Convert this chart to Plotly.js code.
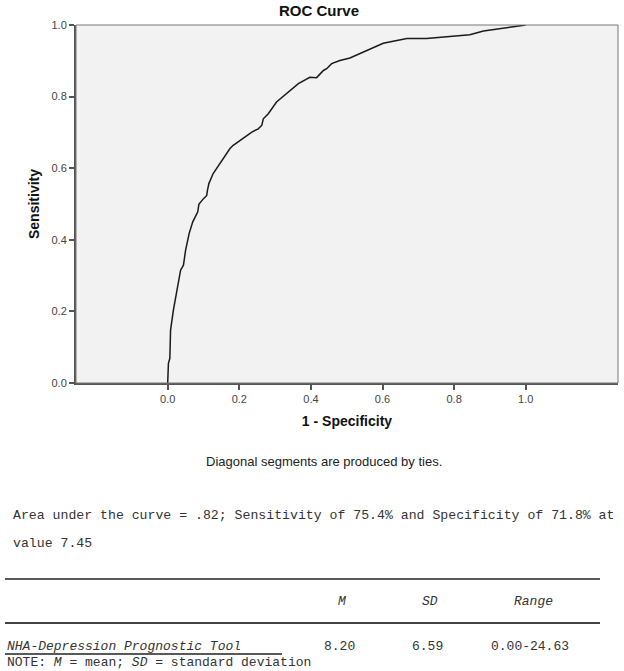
<!DOCTYPE html>
<html>
<head>
<meta charset="utf-8">
<script src="https://cdn.plot.ly/plotly-3.0.1.min.js"></script>
<style>
  body { margin: 0; background: #fff; }
  #rocChart { width: 624px; height: 671px; }
</style>
</head>
<body>
<div id="rocChart"></div>
<script>
// Puntos de la curva ROC (1 - especificidad, sensibilidad)
const fpr = [0.000, 0.001, 0.002, 0.006, 0.008, 0.016, 0.025, 0.036, 0.044, 0.050, 0.060, 0.070,
  0.084, 0.087, 0.100, 0.109, 0.111, 0.115, 0.127, 0.151, 0.174, 0.183, 0.202, 0.210, 0.235,
  0.253, 0.263, 0.267, 0.281, 0.304, 0.342, 0.365, 0.397, 0.416, 0.435, 0.444, 0.458, 0.481,
  0.509, 0.565, 0.602, 0.668, 0.723, 0.844, 0.882, 1.000];
const tpr = [0.000, 0.030, 0.055, 0.069, 0.148, 0.204, 0.250, 0.315, 0.329, 0.371, 0.418, 0.450,
  0.478, 0.499, 0.515, 0.524, 0.538, 0.557, 0.585, 0.622, 0.655, 0.664, 0.678, 0.682, 0.701,
  0.710, 0.720, 0.738, 0.752, 0.785, 0.817, 0.836, 0.854, 0.853, 0.873, 0.878, 0.892, 0.901,
  0.908, 0.934, 0.949, 0.962, 0.962, 0.973, 0.983, 1.000];

// Marcas de los ejes
const tickVals = [0, 0.2, 0.4, 0.6, 0.8, 1.0];
const tickLabels = ['0.0', '0.2', '0.4', '0.6', '0.8', '1.0'];

// Textos y tabla de abajo
const aucNote = ['Area under the curve = .82; Sensitivity of 75.4% and Specificity of 71.8% at', 'value 7.45'];
const tableHeaders = ['<i>M</i>', '<i>SD</i>', '<i>Range</i>'];
const rowLabel = '<i>NHA-Depression Prognostic Tool</i>';
const rowValues = ['8.20', '6.59', '0.00-24.63'];
const tableNote = 'NOTE: <i>M</i> = mean; <i>SD</i> = standard deviation';

// Área del gráfico en píxeles
const W = 624, H = 671;
const plotL = 76, plotR = 618, plotT = 25, plotB = 383;
const px = p => (p - plotL) / (plotR - plotL);
const py = p => (plotB - p) / (plotB - plotT);

const mono = 'Liberation Mono, Courier New, monospace';
const sans = 'Liberation Sans, Arial, sans-serif';

const rocData = [
  {
    type: 'scatter',
    mode: 'lines',
    x: fpr,
    y: tpr,
    line: { color: '#1a1a1a', width: 1.5 },
    hoverinfo: 'x+y',
    showlegend: false
  }
];

const annotations = [];
function addText(text, x, y, anchor, font) {
  annotations.push({
    text: text, xref: 'paper', yref: 'paper', x: px(x), y: py(y),
    xanchor: anchor, yanchor: 'middle', showarrow: false, font: font
  });
}

addText('Diagonal segments are produced by ties.', 324, 461, 'center',
  { family: sans, size: 13, color: '#222' });
addText(aucNote[0], 11, 515, 'left', { family: mono, size: 13.2, color: '#333' });
addText(aucNote[1], 11, 543, 'left', { family: mono, size: 13.2, color: '#333' });

const colX = [342, 430, 533];
tableHeaders.forEach((h, i) => addText(h, colX[i], 601, 'center', { family: mono, size: 13, color: '#333' }));
addText(rowLabel, 5, 646, 'left', { family: mono, size: 13, color: '#333' });
rowValues.forEach((v, i) => addText(v, colX[i] - 3, 646, 'center', { family: mono, size: 13, color: '#333' }));
addText(tableNote, 5, 662, 'left', { family: mono, size: 13, color: '#333' });

function hLine(x0, x1, y, width, color) {
  return {
    type: 'line', xref: 'paper', yref: 'paper',
    x0: px(x0), x1: px(x1), y0: py(y), y1: py(y),
    line: { color: color, width: width }
  };
}

const rocLayout = {
  width: W,
  height: H,
  paper_bgcolor: '#ffffff',
  plot_bgcolor: '#f2f2f2',
  margin: { l: plotL, r: W - plotR, t: plotT, b: H - plotB, pad: 0 },
  title: {
    text: '<b>ROC Curve</b>',
    x: 319 / W,
    xref: 'container',
    xanchor: 'center',
    y: 1 - 11 / H,
    yref: 'container',
    yanchor: 'middle',
    font: { family: sans, size: 15, color: '#111' }
  },
  xaxis: {
    range: [(plotL - 167.7) / 358, (plotR - 167.7) / 358],
    tickvals: tickVals,
    ticktext: tickLabels,
    ticks: 'outside',
    ticklen: 5,
    tickwidth: 1.5,
    tickcolor: '#555',
    showline: true,
    linecolor: '#555',
    linewidth: 2,
    showgrid: false,
    zeroline: false,
    tickfont: { family: sans, size: 11, color: '#444' },
    title: {
      text: '<b>1 - Specificity</b>',
      standoff: 12,
      font: { family: sans, size: 14, color: '#111' }
    }
  },
  yaxis: {
    range: [0, 1],
    tickvals: tickVals,
    ticktext: tickLabels,
    ticks: 'outside',
    ticklen: 5,
    tickwidth: 1.5,
    tickcolor: '#555',
    showline: true,
    linecolor: '#555',
    linewidth: 2,
    showgrid: false,
    zeroline: false,
    tickfont: { family: sans, size: 11, color: '#444' },
    title: {
      text: '<b>Sensitivity</b>',
      standoff: 9,
      font: { family: sans, size: 14, color: '#111' }
    }
  },
  shapes: [
    // marco fino arriba y a la derecha
    { type: 'rect', xref: 'paper', yref: 'paper', x0: 0, x1: 1, y0: 0, y1: 1,
      line: { color: '#777', width: 1 }, layer: 'above' },
    hLine(5, 600, 579, 1.5, '#222'),
    hLine(5, 600, 623, 2, '#444'),
    hLine(5, 282, 654, 1.5, '#222')
  ],
  annotations: annotations
};

Plotly.newPlot('rocChart', rocData, rocLayout, { displayModeBar: false });
</script>
</body>
</html>
